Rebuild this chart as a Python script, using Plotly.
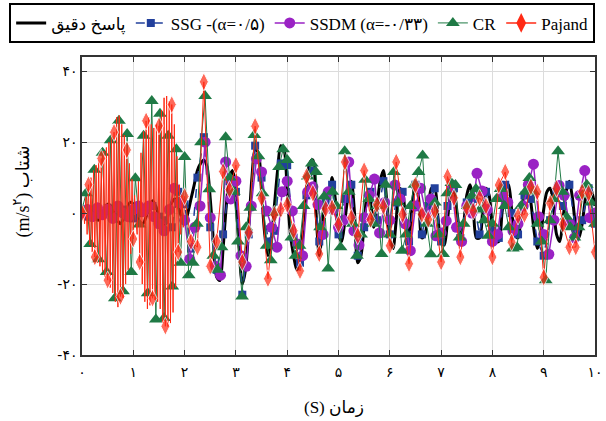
import numpy as np
import plotly.graph_objects as go

# ---------------- data ----------------
DT_EXACT = 0.0625
DT_SSG = 0.125
DT_SSDM = 0.1
DT_CR = 0.08
DT_PAJ_FINE = 0.025
DT_PAJ = 0.125

# exact response (acceleration, m/s^2), t = 0 .. 10 step 0.0625
exact_acc = [
    0, 1, 2, 1, -1, -2, -1, 1, 2.5, 2, 0, -2, -3, -1.5, 1, 3,
    2.5, 0, -2.5, -3, -1, 2, 3.5, 2, -1, -3.5, -3, 0, 3, 4, 2, -1,
    -3, 0, 4, 8, 12, 14, 15, 13, 4, -8, -18, -19, -10, 2, 10, 12,
    4, -10, -20, -16, -4, 10, 18, 17, 6, -6, -12, -8, 2, 12, 19, 18,
    6, -6, -12, -16, -14, -4, 6, 14, 15, 0, -12, -4, 6, 4, 10, 4,
    -6, -8, -2, 5, 9, 0, -14, -12, -3, 5, 3, -4, 2, 9, 12, 4,
    -7, -10, -2, 7, 6, -3, -6, 2, 9, 4, -7, -6, 1, 7, 7, -1,
    -8, -9, -2, 5, 6, 0, -6, -3, 5, 8, 2, -7, -7, 1, 7, 5,
    -4, -8, -8, 0, 7, 8, 1, -6, -7, 0, 6, 8, 3, -5, -10, -7,
    1, 6, 7, 2, -6, -8, -2, 6, 9, 4, -4, -7, -3, 4, 8, 6,
    2,
]

# SSG (alpha = 0.5), t = 0 .. 10 step 0.125
ssg_acc = [
    0, -1, 1, -0.5, 1.5, -1, 0.5, 1, -1.5, 0, 1.5, 2, -1, -2, -4, 6,
    2.5, -10, 10, 21.4, -4, -16, -6, 9,
    6, -23, -6, 19, 10, -8, -5, 14,
    13.5, -6.9, -14, 5, 12, -8, 3, 8,
    -6, 4, 8, -12, -4, 6, -2, 9,
    -6, 3, 6, -8, 8, -6, 2, 7,
    -8, 2, 7, -7, 3, 4, -6, 6,
    -5, -7, 8, 0, -6, 5, 4, -8,
    -12, -2, 6, 2, 8, -5, -2, 7,
    -3,
]

# SSDM (alpha = -0.33), t = 0 .. 10 step 0.1
ssdm_acc = [
    0, 1, -1, 1.5, -0.5, 1, -1.5, 2, 0, -1, 1, 2, 0.5, 2, -1, -3, -5, 1, 7, 3, -2,
    -13, -4, 2, 20, -1.3, -15, -17.5, 14.4, 4, 9,
    -12, -15, 2, 15.3, 11.6, 0.6, -4, -9.6, 6, 9,
    0.6, -8.7, -12, 6, 7.4, 2.4, -6, 6, 1, -4,
    -2, 14.4, -5, -9, -1.3, 5, 9.6, -5.6, 3, -2,
    7.9, 4, -3, -10.6, 2, 7, 0, 4, -6.4, -5.6,
    -2.2, 8, -4, -8, 2, 0, 11.2, 6.2, 1, -8,
    -6, 5, 3, -5, -3, 2, 8, 13.8, -1, -6,
    -11.6, -2, 7.8, 5, -3, -7, 5, 12, -1.3, 0,
]

# CR, t = 0 .. 10 step 0.08
cr_acc = [
    1, 5.6, -8.7, 12.2, -13, 17, -16.6, 20.5, -24, 26,
    -22, 22.3, -16.6, 9.8, -3.2, 21.8, -22.6, 31.6, -30, 28,
    -29.6, 21.8, -20.7, 18, -14,
    15.8, -17.5, -14, -3, 20, 33, 6.7, -12, -16, -9.6,
    21.4, 10, 6, -8, -23.5, -4, 1.5, 22, 16, 5.6,
    -9.2, -13.3, 0, 13, 18, 15, -6.9, -12, -9.2, 2,
    10.3, 14, 11.6, -4, 4.7, -15.6, 6, 2, -9.6, 17.4,
    6, -3, -12, -6, 9.4, 4, -3, 2, -11.5, 8,
    -6, 11.6, 3, -10.6, -6, 2, 8, 11.6, 16.2, -3,
    -11.6, 3, -6, -11.5, 5.6, 8.5, 7.9, -6.9, -3, 2,
    4.9, 6.8, 1, -2, -6.4, -3, 4, 6.8, 2, -4,
    -10, -9.6, 2, 6, 9.9, 6, -3, -8, -18.9, -2,
    4, 17.4, 6, -1, -4, -6.9, -4, 5, 8, 3,
    -3,
]

# Pajand: fine steps 0 .. 2 (step 0.025), then 2.125 .. 10 (step 0.125)
pajand_early = [
    0, 2, -3, 4.5, -6, 8, -9, 10, -11, 12,
    -12.4, 13.5, -14, 14.8, -15, 15.4, -16.5, 17.5, -18, 18.5,
    -18.9, 20, -21, 22, -22.5, 22.8, -25, 27, -26.5, 27.5,
    -23.5, 25, -24, 22, -20, 17.8, -16, 14, -11.5, 9.5,
    -7.3, 5, -2, -6, 9, -13.8, 17, -20, 23, -25,
    26, -27, 27, -26, 25, -24, 24, -24.5, 25, -25,
    24.6, -27, 29, -31, 32.5, -31.9, 33, -32, 31.5, -31,
    30.6, -28, 25, -21, 16, -11, 8, -6, 5, -4,
    4.7,
]
pajand_late = [
    -8, -9.6, 37, -15, -8, 11.7, 6.6,
    13.5, -13.8, -5.5, 24.5, 4.2, -18.5, -0.4, 1.0,
    2.4, -5, -16.3, 10.3, 5.6, -11.5, 1.2, 1.5,
    -3.2, 14.4, -1.3, -6.4, 12, -1.8, 2.4, 1.9,
    -9.2, 14.4, -0.4, -14.3, 7.9, -0.4, -1.8, 0.6,
    -13.8, 10.3, 4.3, -12.4, 1.5, 0.6, 4.3, 2,
    -12.4, 7.9, 11.6, -8.2, -0.8, -0.4, 7.4, 6,
    -18.1, 2.8, 7, -3.2, -9.6, -9.6, 6, 5.6,
    -11,
]

series_names = ['پاسخ دقیق', 'SSG -(α=۰/۵)', 'SSDM (α=-۰/۳۳)', 'CR', 'Pajand']
x_ticks = list(range(11))
x_tick_labels = ['۰', '۱', '۲', '۳', '۴', '۵', '۶', '۷', '۸', '۹', '۱۰']
y_ticks = [-40, -20, 0, 20, 40]
y_tick_labels = ['-۴۰', '-۲۰', '۰', '۲۰', '۴۰']
x_title = '(S) زمان'
y_title = '(m/s<sup>۲</sup>) شتاب'

# ---------------- time axes ----------------
t_exact = np.arange(len(exact_acc)) * DT_EXACT
t_ssg = np.arange(len(ssg_acc)) * DT_SSG
t_ssdm = np.arange(len(ssdm_acc)) * DT_SSDM
t_cr = np.arange(len(cr_acc)) * DT_CR
t_pe = np.arange(len(pajand_early)) * DT_PAJ_FINE
t_pl = t_pe[-1] + (np.arange(len(pajand_late)) + 1) * DT_PAJ
t_paj = np.concatenate([t_pe, t_pl])
paj_acc = list(pajand_early) + list(pajand_late)
PAJ_MS = 13
paj_sizes = [PAJ_MS if i % 5 == 0 else 0 for i in range(len(pajand_early))] + [PAJ_MS] * len(pajand_late)

C_BLACK = '#000000'
C_BLUE = '#22409c'
C_PURPLE = '#9a22c4'
C_GREEN = '#1f7a45'
C_RED = '#ff2a14'

fig = go.Figure()
fig.add_trace(go.Scatter(x=t_exact, y=exact_acc, mode='lines', name=series_names[0],
                         line=dict(color=C_BLACK, width=3, shape='spline', smoothing=0.8)))
fig.add_trace(go.Scatter(x=t_ssg, y=ssg_acc, mode='lines+markers', name=series_names[1],
                         line=dict(color=C_BLUE, width=1.5, dash='dash'),
                         marker=dict(symbol='square', size=8, color=C_BLUE)))
fig.add_trace(go.Scatter(x=t_ssdm, y=ssdm_acc, mode='lines+markers', name=series_names[2],
                         line=dict(color=C_PURPLE, width=1.5),
                         marker=dict(symbol='circle', size=11, color=C_PURPLE)))
fig.add_trace(go.Scatter(x=t_cr, y=cr_acc, mode='lines+markers', name=series_names[3],
                         line=dict(color=C_GREEN, width=1),
                         marker=dict(symbol='triangle-up', size=12, color=C_GREEN)))
fig.add_trace(go.Scatter(x=t_paj, y=paj_acc, mode='lines+markers', name=series_names[4],
                         showlegend=False,
                         line=dict(color=C_RED, width=1.0),
                         marker=dict(symbol='diamond-tall', size=paj_sizes, color=C_RED)))
# legend entry for Pajand
fig.add_trace(go.Scatter(x=[None], y=[None], mode='lines+markers', name=series_names[4],
                         line=dict(color=C_RED, width=1.5),
                         marker=dict(symbol='diamond-tall', size=14, color=C_RED)))

axis_common = dict(showline=True, linecolor='#333333', linewidth=1.5, mirror='ticks',
                   ticks='inside', ticklen=5, tickcolor='#333333', showgrid=True,
                   gridcolor='#dcdcdc', gridwidth=1, zeroline=False,
                   ticklabeloverflow='allow',
                   tickfont=dict(family='DejaVu Sans', size=14, color='#000000'))

fig.update_xaxes(range=[0, 10], tickvals=x_ticks, ticktext=x_tick_labels,
                 ticklabelstandoff=3, **axis_common)
fig.update_yaxes(range=[-40, 44], tickvals=y_ticks, ticktext=y_tick_labels,
                 ticklabelstandoff=0, **axis_common)

LEG_FONT = 'Liberation Serif, DejaVu Sans'
fig.update_layout(
    width=606, height=421,
    margin=dict(l=82, r=3, t=54, b=66),
    plot_bgcolor='white', paper_bgcolor='white',
    legend=dict(orientation='h', x=-0.142, xanchor='left', y=1.18, yanchor='top',
                bordercolor='#000000', borderwidth=2, bgcolor='white',
                font=dict(family=LEG_FONT, size=17, color='#000000'),
                itemwidth=30, tracegroupgap=0),
    annotations=[
        dict(text=x_title, xref='paper', yref='paper', x=0.491, y=-0.176,
             xanchor='center', yanchor='middle',
             showarrow=False, font=dict(family=LEG_FONT, size=17, color='#000000')),
        dict(text=y_title, xref='paper', yref='paper', x=-0.116, y=0.55, textangle=-90,
             xanchor='center', yanchor='middle',
             showarrow=False, font=dict(family=LEG_FONT, size=18, color='#000000')),
    ],
    showlegend=True,
)

fig.write_html('out.html')
